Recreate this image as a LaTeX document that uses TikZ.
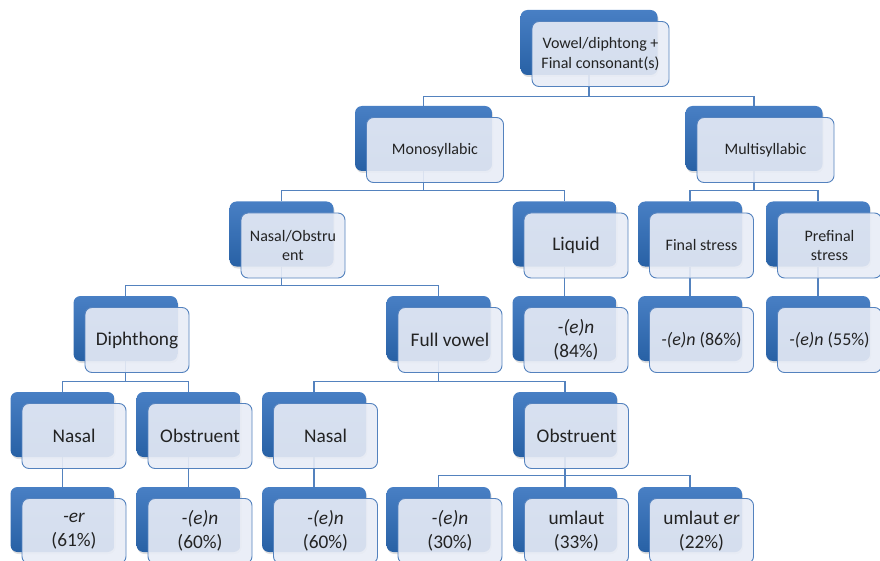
\documentclass[tikz,border=0pt]{standalone}
\usepackage{fontspec}
\setmainfont{Carlito}
\usetikzlibrary{shadows}
\pgfdeclarelayer{background}
\pgfsetlayers{background,main}
\definecolor{lineblue}{RGB}{84,130,190}
\definecolor{backtop}{RGB}{72,127,196}
\definecolor{backbot}{RGB}{40,97,165}
\definecolor{frontfill}{RGB}{232,236,246}
\definecolor{txt}{RGB}{35,35,35}
\tikzset{
 backbox/.style={rounded corners=7pt, minimum height=65pt, inner sep=0pt, top color=backtop, bottom color=backbot, draw=none,
   drop shadow={opacity=0.25, shadow xshift=1pt, shadow yshift=-2pt}},
 frontbox/.style={rounded corners=7pt, minimum height=65pt, inner sep=1pt, fill=frontfill, fill opacity=0.9, text opacity=1,
   draw=lineblue, line width=0.9pt, text=txt, align=center},
 small/.style={font=\fontsize{16}{19.5}\selectfont},
 big/.style={font=\fontsize{19.3}{24.5}\selectfont},
 mid/.style={font=\fontsize{18}{22}\selectfont},
 conn/.style={draw=lineblue, line width=1.1pt},
 wide/.style={minimum width=137pt},
 narrow/.style={minimum width=104pt},
}
\begin{document}
\begin{tikzpicture}[x=1pt,y=-1pt]
\useasboundingbox (0,0) rectangle (880,561);
\clip (0,0) rectangle (880,561);
% back boxes
\node[backbox,wide] (rootb) at (589,42.5) {};
\node[backbox,wide] (monob) at (423.5,138.5) {};
\node[backbox,wide] (multib) at (754,138.5) {};
\node[backbox,narrow] (nasob) at (281.5,234) {};
\node[backbox,narrow] (liqb) at (564.5,234) {};
\node[backbox,narrow] (finb) at (690,234) {};
\node[backbox,narrow] (preb) at (818,234) {};
\node[backbox,narrow] (diphb) at (125.5,328.5) {};
\node[backbox,narrow] (fullb) at (438.5,328.5) {};
\node[backbox,narrow] (leightyfourb) at (564.5,328.5) {};
\node[backbox,narrow] (leightysixb) at (690,328.5) {};
\node[backbox,narrow] (lfiftyfiveb) at (818,328.5) {};
\node[backbox,narrow] (nasab) at (62.5,424.5) {};
\node[backbox,narrow] (obsab) at (188.5,424.5) {};
\node[backbox,narrow] (nasbb) at (314,424.5) {};
\node[backbox,narrow] (obsbb) at (565,424.5) {};
\node[backbox,narrow] (rsixtyoneb) at (62.5,519.5) {};
\node[backbox,narrow] (rsixtyab) at (188.5,519.5) {};
\node[backbox,narrow] (rsixtybb) at (314,519.5) {};
\node[backbox,narrow] (rthirtyb) at (438.5,519.5) {};
\node[backbox,narrow] (rthirtythreeb) at (565,519.5) {};
\node[backbox,narrow] (rtwentytwob) at (690,519.5) {};
% front boxes
\node[frontbox,wide,small] (root) at ([shift={(11.5,11.5)}]rootb.center) {Vowel/diphtong +\\Final consonant(s)};
\node[frontbox,wide,small] (mono) at ([shift={(11.5,11.5)}]monob.center) {Monosyllabic};
\node[frontbox,wide,small] (multi) at ([shift={(11.5,11.5)}]multib.center) {Multisyllabic};
\node[frontbox,narrow,small] (naso) at ([shift={(11.5,11.5)}]nasob.center) {Nasal/Obstru\\ent};
\node[frontbox,narrow,big] (liq) at ([shift={(11.5,11.5)}]liqb.center) {Liquid};
\node[frontbox,narrow,small] (fin) at ([shift={(11.5,11.5)}]finb.center) {Final stress};
\node[frontbox,narrow,small] (pre) at ([shift={(11.5,11.5)}]preb.center) {Prefinal\\stress};
\node[frontbox,narrow,big] (diph) at ([shift={(11.5,11.5)}]diphb.center) {Diphthong};
\node[frontbox,narrow,big] (full) at ([shift={(11.5,11.5)}]fullb.center) {Full vowel};
\node[frontbox,narrow,big] (leightyfour) at ([shift={(11.5,11.5)}]leightyfourb.center) {\textit{-(e)n}\\(84\%)};
\node[frontbox,narrow,mid] (leightysix) at ([shift={(11.5,11.5)}]leightysixb.center) {\textit{-(e)n} (86\%)};
\node[frontbox,narrow,mid] (lfiftyfive) at ([shift={(11.5,11.5)}]lfiftyfiveb.center) {\textit{-(e)n} (55\%)};
\node[frontbox,narrow,big] (nasa) at ([shift={(11.5,11.5)}]nasab.center) {Nasal};
\node[frontbox,narrow,big] (obsa) at ([shift={(11.5,11.5)}]obsab.center) {Obstruent};
\node[frontbox,narrow,big] (nasb) at ([shift={(11.5,11.5)}]nasbb.center) {Nasal};
\node[frontbox,narrow,big] (obsb) at ([shift={(11.5,11.5)}]obsbb.center) {Obstruent};
\node[frontbox,narrow,big] (rsixtyone) at ([shift={(11.5,11.5)}]rsixtyoneb.center) {\textit{-er}\\(61\%)};
\node[frontbox,narrow,big] (rsixtya) at ([shift={(11.5,11.5)}]rsixtyab.center) {\textit{-(e)n}\\(60\%)};
\node[frontbox,narrow,big] (rsixtyb) at ([shift={(11.5,11.5)}]rsixtybb.center) {\textit{-(e)n}\\(60\%)};
\node[frontbox,narrow,big] (rthirty) at ([shift={(11.5,11.5)}]rthirtyb.center) {\textit{-(e)n}\\(30\%)};
\node[frontbox,narrow,big] (rthirtythree) at ([shift={(11.5,11.5)}]rthirtythreeb.center) {umlaut\\(33\%)};
\node[frontbox,narrow,big] (rtwentytwo) at ([shift={(11.5,11.5)}]rtwentytwob.center) {umlaut \textit{er}\\(22\%)};
% connectors
\begin{pgfonlayer}{background}
\draw[conn] (rootb.south) -- ++(0,22);
\draw[conn] (monob.north) -- ++(0,-9) -| (multib.north);
\draw[conn] (monob.south) -- ++(0,20);
\draw[conn] (nasob.north) -- ++(0,-10.5) -| (liqb.north);
\draw[conn] (multib.south) -- ++(0,20);
\draw[conn] (finb.north) -- ++(0,-10.5) -| (preb.north);
\draw[conn] (nasob.south) -- ++(0,19.5);
\draw[conn] (diphb.north) -- ++(0,-10.5) -| (fullb.north);
\draw[conn] (liqb.south) -- (leightyfourb.north);
\draw[conn] (finb.south) -- (leightysixb.north);
\draw[conn] (preb.south) -- (lfiftyfiveb.north);
\draw[conn] (diphb.south) -- ++(0,21);
\draw[conn] (nasab.north) -- ++(0,-10.5) -| (obsab.north);
\draw[conn] (fullb.south) -- ++(0,21);
\draw[conn] (nasbb.north) -- ++(0,-10.5) -| (obsbb.north);
\draw[conn] (nasab.south) -- (rsixtyoneb.north);
\draw[conn] (obsab.south) -- (rsixtyab.north);
\draw[conn] (nasbb.south) -- (rsixtybb.north);
\draw[conn] (obsbb.south) -- ++(0,19);
\draw[conn] (rthirtyb.north) -- ++(0,-11) -| (rtwentytwob.north);
\draw[conn] (rthirtythreeb.north) -- ++(0,-11);
\end{pgfonlayer}
\end{tikzpicture}
\end{document}
